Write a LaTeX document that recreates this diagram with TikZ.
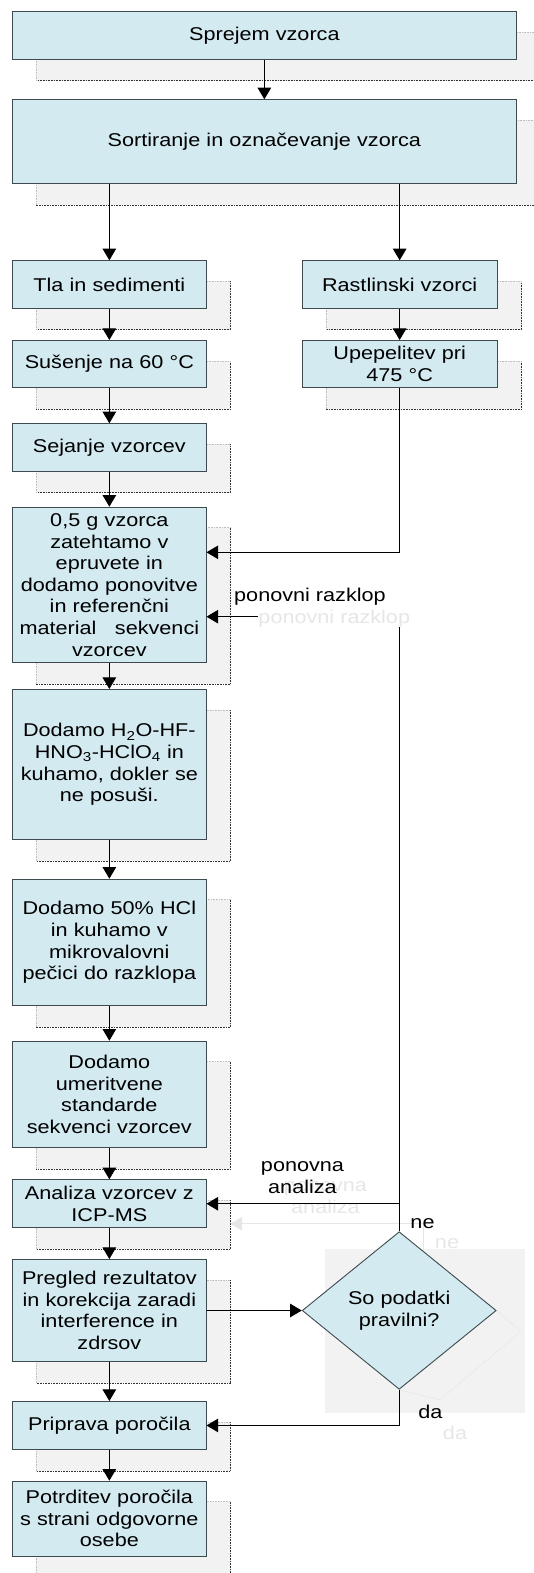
\documentclass[tikz,border=0pt]{standalone}
\usepackage{fontspec}
\setmainfont{Liberation Sans}[FakeStretch=1.17]
\usetikzlibrary{arrows.meta,shapes.geometric,calc,backgrounds}
\definecolor{boxfill}{HTML}{D2EAF0}
\definecolor{boxline}{HTML}{3F4A4F}
\definecolor{shadefill}{HTML}{F2F2F2}
\definecolor{ghosttxt}{HTML}{E6E6E6}
\newcommand\shdw[1]{%
  \fill[shadefill] ($(#1.north west)+(24,21)$) rectangle ($(#1.south east)+(24,21)$);
  \draw[shdark] ($(#1.north east)+(24,21)$) -- ($(#1.south east)+(24,21)$) -- ($(#1.south west)+(24,21)$);
  \draw[shlight] ($(#1.south west)+(24,21)$) -- ($(#1.north west)+(24,21)$) -- ($(#1.north east)+(24,21)$);}
\begin{document}
\begin{tikzpicture}[x=1pt,y=-1pt,
  every node/.style={font=\fontsize{18.5}{21.6}\selectfont, text=black},
  box/.style={draw=boxline, line width=0.9pt, fill=boxfill, inner sep=0pt,
    align=center, anchor=north west},
  lw/.style={minimum width=193.4pt, text width=193.4pt},
  rw/.style={minimum width=194.8pt, text width=194.8pt},
  ww/.style={minimum width=503.4pt, text width=503.4pt},
  dec/.style={diamond, draw=boxline, line width=0.9pt, fill=boxfill, inner sep=0pt,
    align=center, minimum width=194pt, minimum height=157.6pt},
  arr/.style={line width=0.9pt, -{Triangle[width=13.6pt,length=11.7pt]}},
  shdark/.style={line width=0.6pt, dash pattern=on 0.8pt off 0.8pt, black!80},
  shlight/.style={line width=0.6pt, dash pattern=on 0.8pt off 0.8pt, black!25},
  lbl/.style={inner sep=0pt, anchor=base, align=center},
  ghost/.style={inner sep=0pt, anchor=base, align=center, text=ghosttxt},
]
\useasboundingbox (0,0) rectangle (533,1573);

% boxes
\node[box,ww,minimum height=47.7pt] (b1) at (12.2,11) {Sprejem vzorca};
\node[box,ww,minimum height=83.7pt] (b2) at (12.2,99.3) {Sortiranje in označevanje vzorca};
\node[box,lw,minimum height=47.4pt] (tla) at (12.2,260.3) {Tla in sedimenti};
\node[box,rw,minimum height=47.4pt] (rast) at (301.8,260.3) {Rastlinski vzorci};
\node[box,lw,minimum height=47.3pt] (sus) at (12.2,340) {Sušenje na 60 °C};
\node[box,rw,minimum height=47.3pt] (upep) at (301.8,340) {Upepelitev pri\\475 °C};
\node[box,lw,minimum height=47.4pt] (sej) at (12.2,423.3) {Sejanje vzorcev};
\node[box,lw,minimum height=155.6pt] (g05) at (12.2,506.7) {0,5 g vzorca\\zatehtamo v\\epruvete in\\dodamo ponovitve\\in referenčni\\material~~~sekvenci\\vzorcev};
\node[box,lw,minimum height=150.3pt] (h2o) at (12.2,689) {Dodamo H\textsubscript{2}O-HF-\\HNO\textsubscript{3}-HClO\textsubscript{4} in\\kuhamo, dokler se\\ne posuši.};
\node[box,lw,minimum height=126.6pt] (hcl) at (12.2,878.7) {Dodamo 50\% HCl\\in kuhamo v\\mikrovalovni\\pečici do razklopa};
\node[box,lw,minimum height=106.6pt] (umer) at (12.2,1040.7) {Dodamo\\umeritvene\\standarde\\sekvenci vzorcev};
\node[box,lw,minimum height=48pt] (anal) at (12.2,1179.3) {Analiza vzorcev z\\ICP-MS};
\node[box,lw,minimum height=102pt] (preg) at (12.2,1259) {Pregled rezultatov\\in korekcija zaradi\\interference in\\zdrsov};
\node[box,lw,minimum height=48pt] (prip) at (12.2,1401) {Priprava poročila};
\node[box,lw,minimum height=75pt] (potr) at (12.2,1480.7) {Potrditev poročila\\s strani odgovorne\\osebe};
\node[dec] (dc) at (399.2,1310.5) {So podatki\\pravilni?};

% shadows
\begin{scope}[on background layer]
  \foreach \n in {b1,b2,tla,rast,sus,upep,sej,g05,h2o,hcl,umer,anal,preg,prip,potr}{\shdw{\n}}
  \fill[shadefill] ($(dc.west |- dc.north)+(23,18)$) rectangle ($(dc.east |- dc.south)+(28,23)$);
  \draw[line width=0.5pt, dash pattern=on 0.8pt off 0.8pt, black!12] (dc.east) -- ++(24,21) -- ($(dc.south)+(41,10)$) -- (dc.south);
  % faint connector shadow
  \draw[line width=0.9pt, draw=ghosttxt, -{Triangle[width=13.6pt,length=11.7pt]}]
    ($(dc.north)+(24,20)$) |- ($(anal.east)+(24,20)$);
  \node[ghost] (g2) at (325.5,1213) {ponovna\\analiza};
  \node[ghost] (g3) at (447,1248) {ne};
  \node[ghost] (g4) at (455,1439) {da};
\end{scope}

% connectors
\coordinate (ya) at (0,552.3);
\coordinate (yb) at (0,616.7);
\draw[arr] (b1.south) -- (b2.north);
\draw[arr] (b2.south -| tla.north) -- (tla.north);
\draw[arr] (b2.south -| rast.north) -- (rast.north);
\draw[arr] (tla.south) -- (sus.north);
\draw[arr] (rast.south) -- (upep.north);
\draw[arr] (sus.south) -- (sej.north);
\draw[arr] (sej.south) -- (g05.north);
\draw[arr] (g05.south) -- (h2o.north);
\draw[arr] (h2o.south) -- (hcl.north);
\draw[arr] (hcl.south) -- (umer.north);
\draw[arr] (umer.south) -- (anal.north);
\draw[arr] (anal.south) -- (preg.north);
\draw[arr] (preg.south) -- (prip.north);
\draw[arr] (prip.south) -- (potr.north);
\draw[arr] (upep.south) |- (ya -| g05.east);
\draw[arr] (dc.north) |- (yb -| g05.east);
\draw[arr] (dc.north |- anal.east) -- (anal.east);
\draw[arr] (preg.east) -- (dc.west);
\draw[arr] (dc.south) |- (prip.east);

% labels
\node[ghost, fill=white, text height=13pt, text depth=4pt] (g1) at (334.3,623) {ponovni razklop};
\node[lbl] (l1) at (310,601.5) {ponovni razklop};
\node[lbl] (l2) at (302.5,1193) {ponovna\\analiza};
\node[lbl] (l3) at (422.5,1228) {ne};
\node[lbl] (l4) at (430.3,1418.3) {da};
\end{tikzpicture}
\end{document}
